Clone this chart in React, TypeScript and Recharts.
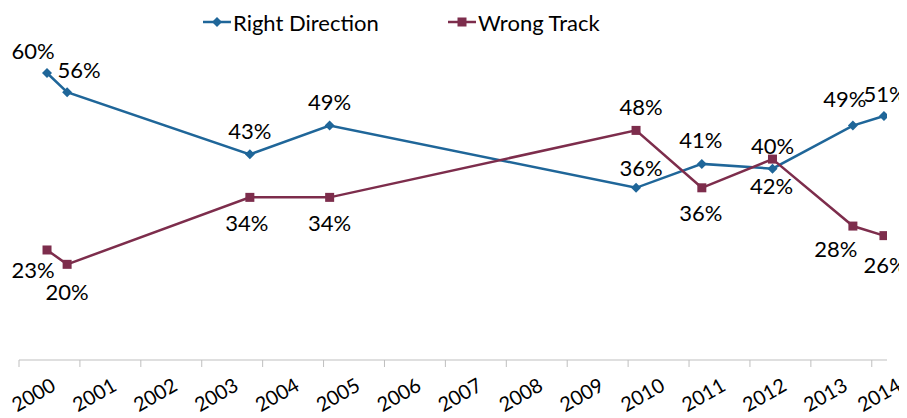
import React from "react";
import { LineChart, Line, XAxis, YAxis, LabelList } from "recharts";

// poll dates as fractional years
const surveyDates = [2000.46, 2000.79, 2003.79, 2005.1, 2010.13, 2011.21, 2012.37, 2013.69, 2014.2];
const rightDirection = [60, 56, 43, 49, 36, 41, 40, 49, 51];
const wrongTrack = [23, 20, 34, 34, 48, 36, 42, 28, 26];
const rightDirectionLabels = ["60%", "56%", "43%", "49%", "36%", "41%", "42%", "49%", "51%"];
const wrongTrackLabels = ["23%", "20%", "34%", "34%", "48%", "36%", "40%", "28%", "26%"];
const yearTicks = [2000, 2001, 2002, 2003, 2004, 2005, 2006, 2007, 2008, 2009, 2010, 2011, 2012, 2013, 2014];

const BLUE = "#1f6699";
const MAROON = "#7d2d4c";
const FONT = "Lato, 'Noto Sans', sans-serif";

// label offsets from the point [dx, dy]
const rdOffsets = [[-14, -23], [12, -23], [0, -24], [0, -24], [5, -20], [-1, -24], [-1, 17], [-8, -27], [1, -23]];
const wtOffsets = [[-14, 20], [0, 27], [-3, 25], [0, 25], [5, -24], [-1, 25], [0, -14], [-17, 22], [1, 29]];

const data = surveyDates.map((d, i) => ({
  date: d,
  rd: rightDirection[i],
  wt: wrongTrack[i],
}));

const Diamond = (props: any) => {
  const { cx, cy } = props;
  if (cx == null || cy == null) return null;
  const s = 5;
  return (
    <path
      key={`d-${props.index}`}
      d={`M${cx},${cy - s} L${cx + s},${cy} L${cx},${cy + s} L${cx - s},${cy} Z`}
      fill={BLUE}
    />
  );
};

const Square = (props: any) => {
  const { cx, cy } = props;
  if (cx == null || cy == null) return null;
  const s = 4.5;
  return <rect key={`s-${props.index}`} x={cx - s} y={cy - s} width={s * 2} height={s * 2} fill={MAROON} />;
};

const makeLabel = (texts: string[], offsets: number[][]) => (props: any) => {
  const { x, y, index } = props;
  const [dx, dy] = offsets[index];
  return (
    <text
      x={x + dx}
      y={y + dy}
      textAnchor="middle"
      dominantBaseline="central"
      fontFamily={FONT}
      fontSize={22}
      fill="#000"
    >
      {texts[index]}
    </text>
  );
};

const YearTick = (props: any) => {
  const { x, y, payload, index } = props;
  // last label squeezed against the right edge, like the original
  const cx = x + (index === yearTicks.length - 1 ? 7 : 14);
  const cy = y + 25;
  return (
    <text
      x={cx}
      y={cy}
      textAnchor="middle"
      dominantBaseline="central"
      transform={`rotate(-30, ${cx}, ${cy})`}
      fontFamily={FONT}
      fontSize={20}
      fill="#000"
    >
      {payload.value}
    </text>
  );
};

const LegendItem = ({ color, label, square, left }: any) => (
  <div style={{ position: "absolute", left, top: 0, display: "flex", alignItems: "center", height: 28 }}>
    <svg width={28} height={12}>
      <line x1={0} y1={6} x2={28} y2={6} stroke={color} strokeWidth={2.5} />
      {square ? (
        <rect x={9.5} y={1.5} width={9} height={9} fill={color} />
      ) : (
        <path d="M14,1 L19,6 L14,11 L9,6 Z" fill={color} />
      )}
    </svg>
    <span style={{ fontFamily: FONT, fontSize: 22, marginLeft: 2, color: "#000" }}>{label}</span>
  </div>
);

export default function App() {
  return (
    <div style={{ position: "relative", width: 899, height: 410 }}>
      <LineChart width={899} height={410} data={data} margin={{ top: 65, right: 20, left: 11, bottom: 8 }}>
        <XAxis
          dataKey="date"
          type="number"
          domain={[2000, 2014.25]}
          ticks={yearTicks}
          interval={0}
          height={50}
          stroke="#bfbfbf"
          tickSize={7}
          tick={<YearTick />}
          allowDataOverflow
        />
        <YAxis hide domain={[0, 60]} />
        <Line
          dataKey="rd"
          stroke={BLUE}
          strokeWidth={2.5}
          dot={Diamond}
          activeDot={false}
          isAnimationActive={false}
        >
          <LabelList dataKey="rd" content={makeLabel(rightDirectionLabels, rdOffsets)} />
        </Line>
        <Line
          dataKey="wt"
          stroke={MAROON}
          strokeWidth={2.5}
          dot={Square}
          activeDot={false}
          isAnimationActive={false}
        >
          <LabelList dataKey="wt" content={makeLabel(wrongTrackLabels, wtOffsets)} />
        </Line>
      </LineChart>
      <LegendItem color={BLUE} label="Right Direction" left={195} />
      <LegendItem color={MAROON} label="Wrong Track" square left={440} />
    </div>
  );
}
